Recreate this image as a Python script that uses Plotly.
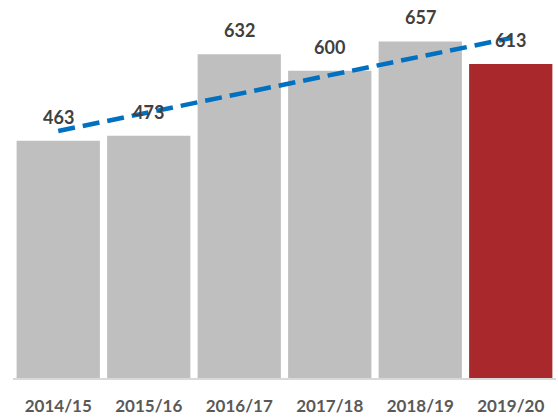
import numpy as np
import plotly.graph_objects as go

years = ["2014/15", "2015/16", "2016/17", "2017/18", "2018/19", "2019/20"]
values = [463, 473, 632, 600, 657, 613]
bar_colors = ["#bfbfbf"] * 5 + ["#a8282b"]

idx = np.arange(len(values))
slope, intercept = np.polyfit(idx, values, 1)
trend = list(intercept + slope * idx)

FONT = "Lato"
fig = go.Figure()
fig.add_trace(go.Bar(x=years, y=values, marker=dict(color=bar_colors, line=dict(width=0)),
                     hoverinfo="x+y"))
fig.add_trace(go.Scatter(x=years, y=trend, mode="lines",
                         line=dict(color="#0070c0", width=4.5, dash="17px,8px")))
for yr, v in zip(years, values):
    fig.add_annotation(x=yr, y=v, text=f"<b>{v}</b>", showarrow=False, yanchor="bottom",
                       yshift=11, font=dict(family=FONT, size=18, color="#404040"))

fig.update_layout(
    width=558, height=418, showlegend=False, bargap=0.08,
    margin=dict(l=13, r=2, t=0, b=40),
    paper_bgcolor="white", plot_bgcolor="white",
    xaxis=dict(type="category", range=[-0.5, 5.5], showline=True, linecolor="#d9d9d9",
               linewidth=1.5, ticks="outside", ticklen=12, tickcolor="rgba(0,0,0,0)",
               tickfont=dict(family=FONT, size=17, color="#595959"),
               tickprefix="<b>", ticksuffix="</b>", showgrid=False),
    yaxis=dict(range=[0, 738], visible=False, showgrid=False, zeroline=False),
)
fig.write_html("out.html", config={"displayModeBar": False},
               post_script="document.body.style.margin='0px';document.body.style.overflow='hidden';")
